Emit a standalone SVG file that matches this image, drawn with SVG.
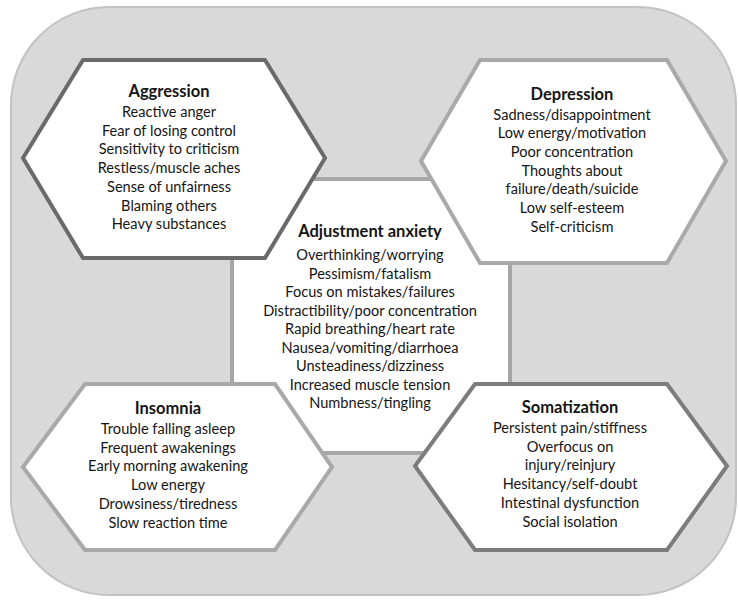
<svg xmlns="http://www.w3.org/2000/svg" width="738" height="604" viewBox="0 0 738 604">
<style>
.bg{fill:#d9d9d9;stroke:#c2c2c2;stroke-width:2}
.hex{fill:#ffffff;stroke-width:4;stroke-linejoin:miter}
.dark{stroke:#6a6a6a}
.mid{stroke:#7c7c7c}
.light{stroke:#a9a9a9}
text{font-family:Lato,"Open Sans","Liberation Sans",sans-serif;font-size:14.6px;fill:#151515;text-anchor:middle}
.t{font-weight:bold;font-size:16.5px}
</style>
<rect class="bg" x="11" y="7" width="725" height="588" rx="98" ry="98"/>
<g id="adjustment-anxiety">
<rect x="232" y="179" width="278" height="274" fill="#ffffff" stroke="#a6a6a6" stroke-width="4"/>
<text x="370" y="237" class="t">Adjustment anxiety</text>
<text x="370" y="260">Overthinking/worrying</text>
<text x="370" y="278.5">Pessimism/fatalism</text>
<text x="370" y="297">Focus on mistakes/failures</text>
<text x="370" y="315.5">Distractibility/poor concentration</text>
<text x="370" y="334">Rapid breathing/heart rate</text>
<text x="370" y="352.5">Nausea/vomiting/diarrhoea</text>
<text x="370" y="371">Unsteadiness/dizziness</text>
<text x="370" y="389.5">Increased muscle tension</text>
<text x="370" y="408">Numbness/tingling</text>
</g>
<g id="aggression">
<polygon class="hex dark" points="23,158 83,60 265,60 325,158 265,258 83,258"/>
<text x="169" y="97" class="t">Aggression</text>
<text x="169" y="117">Reactive anger</text>
<text x="169" y="135.7">Fear of losing control</text>
<text x="169" y="154.4">Sensitivity to criticism</text>
<text x="169" y="173.1">Restless/muscle aches</text>
<text x="169" y="191.8">Sense of unfairness</text>
<text x="169" y="210.5">Blaming others</text>
<text x="169" y="229.2">Heavy substances</text>
</g>
<g id="depression">
<polygon class="hex light" points="421,161 480,60 667,60 726,161 667,263 480,263"/>
<text x="572" y="99.5" class="t">Depression</text>
<text x="572" y="119.5">Sadness/disappointment</text>
<text x="572" y="138.2">Low energy/motivation</text>
<text x="572" y="156.9">Poor concentration</text>
<text x="572" y="175.6">Thoughts about</text>
<text x="572" y="194.3">failure/death/suicide</text>
<text x="572" y="213">Low self-esteem</text>
<text x="572" y="231.7">Self-criticism</text>
</g>
<g id="insomnia">
<polygon class="hex light" points="23,467 85,384 275,384 332,467 275,550 85,550"/>
<text x="168" y="414" class="t">Insomnia</text>
<text x="168" y="434">Trouble falling asleep</text>
<text x="168" y="452.7">Frequent awakenings</text>
<text x="168" y="471.4">Early morning awakening</text>
<text x="168" y="490.1">Low energy</text>
<text x="168" y="508.8">Drowsiness/tiredness</text>
<text x="168" y="527.5">Slow reaction time</text>
</g>
<g id="somatization">
<polygon class="hex mid" points="415,466 475,384 667,384 727,466 667,550 475,550"/>
<text x="570" y="413" class="t">Somatization</text>
<text x="570" y="433">Persistent pain/stiffness</text>
<text x="570" y="451.7">Overfocus on</text>
<text x="570" y="470.4">injury/reinjury</text>
<text x="570" y="489.1">Hesitancy/self-doubt</text>
<text x="570" y="507.8">Intestinal dysfunction</text>
<text x="570" y="526.5">Social isolation</text>
</g>
<g id="connectors"></g>
</svg>
